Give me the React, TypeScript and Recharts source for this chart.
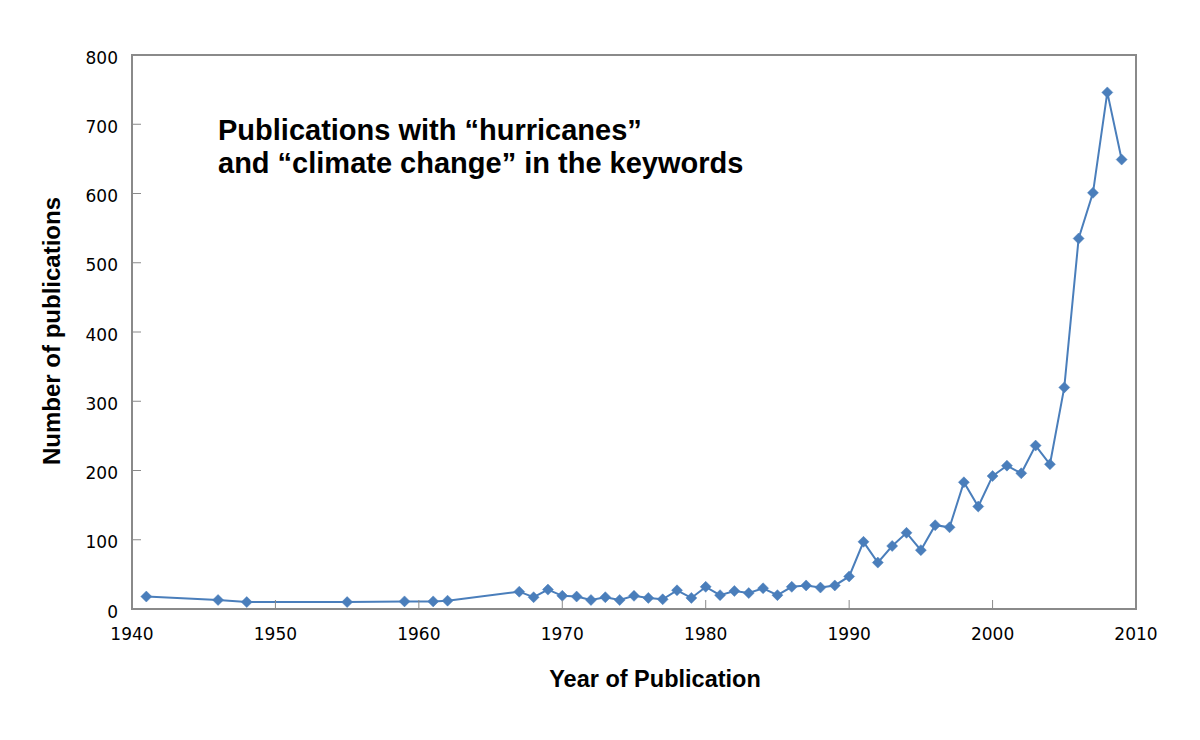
import React from "react";
import { LineChart, Line, XAxis, YAxis, ReferenceArea } from "recharts";

const years = [1941, 1946, 1948, 1955, 1959, 1961, 1962, 1967, 1968, 1969, 1970, 1971, 1972, 1973, 1974, 1975, 1976, 1977, 1978, 1979, 1980, 1981, 1982, 1983, 1984, 1985, 1986, 1987, 1988, 1989, 1990, 1991, 1992, 1993, 1994, 1995, 1996, 1997, 1998, 1999, 2000, 2001, 2002, 2003, 2004, 2005, 2006, 2007, 2008, 2009];
const publications = [18, 13, 10, 10, 11, 11, 12, 25, 17, 28, 19, 18, 13, 17, 13, 19, 16, 14, 27, 16, 32, 20, 26, 23, 30, 20, 32, 34, 31, 34, 47, 97, 67, 91, 110, 85, 121, 118, 183, 148, 192, 207, 196, 236, 209, 320, 535, 601, 746, 649];
const xTicks = [1940, 1950, 1960, 1970, 1980, 1990, 2000, 2010];
const yTicks = [0, 100, 200, 300, 400, 500, 600, 700, 800];
const titleLines = ["Publications with \u201churricanes\u201d", "and \u201cclimate change\u201d in the keywords"];
const xTitle = "Year of Publication";
const yTitle = "Number of publications";

const data = years.map((y, i) => ({ year: y, count: publications[i] }));

const AXIS_COLOR = "#8a8a8a";
const LINE_COLOR = "#4a7ebb";
const TICK_FONT = "'DejaVu Sans', sans-serif";
const BOLD_FONT = "'Liberation Sans', Arial, sans-serif";

const XTick = (props: any) => {
  const { x, y, payload } = props;
  return (
    <g>
      <line x1={x} y1={y} x2={x} y2={y - 9} stroke={AXIS_COLOR} strokeWidth={1} />
      <text x={x} y={y + 31} textAnchor="middle" fontFamily={TICK_FONT} fontSize={17} fill="#000">
        {payload.value}
      </text>
    </g>
  );
};

const YTick = (props: any) => {
  const { x, y, payload } = props;
  return (
    <g>
      <line x1={x} y1={y} x2={x + 9} y2={y} stroke={AXIS_COLOR} strokeWidth={1} />
      <text x={x - 14} y={y + 8.5} textAnchor="end" fontFamily={TICK_FONT} fontSize={17} fill="#000">
        {payload.value}
      </text>
    </g>
  );
};

const Diamond = (props: any) => {
  const { cx, cy, index } = props;
  if (cx == null || cy == null) return <g key={`d-${index}`} />;
  const r = 5.5;
  return (
    <path
      key={`d-${index}`}
      d={`M${cx},${cy - r} L${cx + r},${cy} L${cx},${cy + r} L${cx - r},${cy} Z`}
      fill={LINE_COLOR}
      stroke={LINE_COLOR}
      strokeWidth={0.5}
    />
  );
};

export default function App() {
  return (
    <div style={{ position: "absolute", left: 0, top: 0, width: 1200, height: 740, background: "#fff" }}>
      <LineChart width={1200} height={740} data={data} margin={{ top: 55, right: 64, bottom: 71, left: 52 }}>
        <XAxis
          dataKey="year"
          type="number"
          domain={[1940, 2010]}
          ticks={xTicks}
          interval={0}
          allowDataOverflow
          height={60}
          tickSize={0}
          tickMargin={0}
          tickLine={false}
          axisLine={{ stroke: AXIS_COLOR, strokeWidth: 2 }}
          tick={<XTick />}
        />
        <YAxis
          type="number"
          domain={[0, 800]}
          ticks={yTicks}
          interval={0}
          width={80}
          tickSize={0}
          tickMargin={0}
          tickLine={false}
          axisLine={{ stroke: AXIS_COLOR, strokeWidth: 2 }}
          tick={<YTick />}
        />
        <ReferenceArea x1={1940} x2={2010} y1={0} y2={800} fill="none" stroke={AXIS_COLOR} strokeWidth={2} ifOverflow="visible" />
        <Line
          type="linear"
          dataKey="count"
          stroke={LINE_COLOR}
          strokeWidth={2}
          dot={Diamond}
          activeDot={false}
          isAnimationActive={false}
        />
      </LineChart>
      <div
        style={{
          position: "absolute",
          left: 218,
          top: 114,
          fontFamily: BOLD_FONT,
          fontWeight: "bold",
          fontSize: 29,
          lineHeight: "33px",
          color: "#000",
          whiteSpace: "nowrap",
        }}
      >
        <div>{titleLines[0]}</div>
        <div>{titleLines[1]}</div>
      </div>
      <div
        style={{
          position: "absolute",
          left: 0,
          width: 1310,
          top: 664,
          textAlign: "center",
          fontFamily: BOLD_FONT,
          fontWeight: "bold",
          fontSize: 23.5,
          lineHeight: "30px",
          color: "#000",
          whiteSpace: "nowrap",
        }}
      >
        {xTitle}
      </div>
      <div
        style={{
          position: "absolute",
          left: 52 - 200,
          top: 331 - 15,
          width: 400,
          height: 30,
          lineHeight: "30px",
          textAlign: "center",
          transform: "rotate(-90deg)",
          fontFamily: BOLD_FONT,
          fontWeight: "bold",
          fontSize: 24,
          color: "#000",
          whiteSpace: "nowrap",
        }}
      >
        {yTitle}
      </div>
    </div>
  );
}
